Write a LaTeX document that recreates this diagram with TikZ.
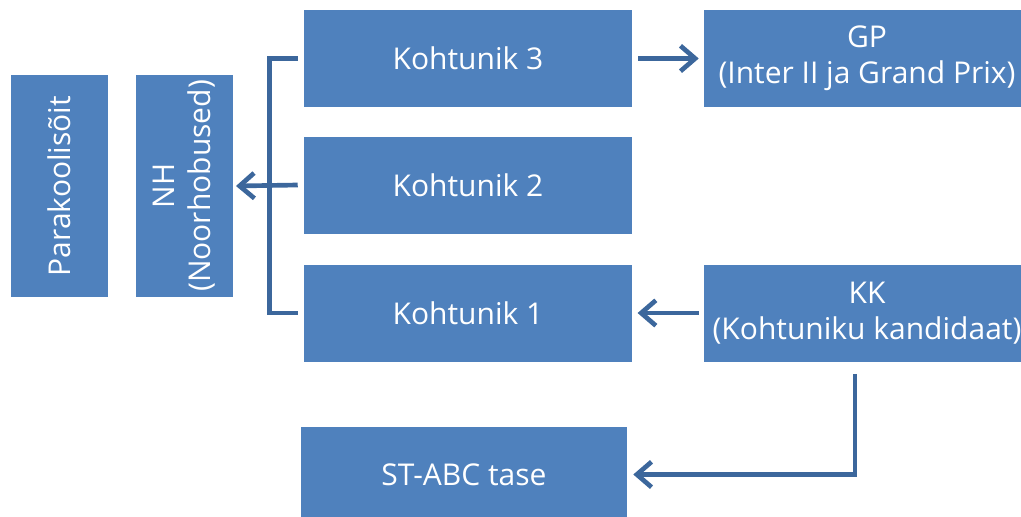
\documentclass[tikz,border=0pt]{standalone}
\usepackage{fontspec}
\setmainfont{Open Sans}
\usetikzlibrary{arrows.meta}
\definecolor{boxblue}{HTML}{4F81BD}
\definecolor{linkblue}{HTML}{3C679C}
\begin{document}
\begin{tikzpicture}[x=0.75pt,y=-0.75pt,
  box/.style={rectangle,fill=boxblue,draw=none,text=white,font=\fontsize{22.5}{27}\selectfont,align=center,inner sep=0pt},
  vbox/.style={box,rotate=90,minimum width=166.5pt,minimum height=72.75pt},
  wbox/.style={box,minimum width=246pt,minimum height=72.75pt},
  link/.style={draw=linkblue,line width=3.5pt},
  arr/.style={link,-{Straight Barb[length=11pt,width=19pt,line width=3.5pt]}}]
\useasboundingbox (0,0) rectangle (1021,517);
\clip (0,0) rectangle (1021,517);
\node[vbox] (pk) at (59.5,186) {Parakoolisõit};
\node[vbox] (nh) at (184.5,186) {NH\\(Noorhobused)};
\node[wbox] (k3) at (468,58.5) {Kohtunik 3};
\node[wbox] (k2) at (468,185) {Kohtunik 2};
\node[wbox] (k1) at (468,313) {Kohtunik 1};
\node[box,minimum width=244.5pt,minimum height=72.75pt] (gp) at (867,58.5) {GP\\(Inter II ja Grand Prix)};
\node[box,minimum width=244.5pt,minimum height=72.75pt] (kk) at (867,313) {KK\\(Kohtuniku kandidaat)};
\node[box,minimum width=244.5pt,minimum height=71.25pt] (st) at (464,474.5) {ST-ABC tase};
\draw[link] ([xshift=-4.5pt]k3.west) -- ++(-21pt,0) |- ([xshift=-4.5pt]k1.west);
\draw[arr] ([xshift=-4.5pt]k2.west) -- (nh.south -| {236,0});
\draw[arr] ([xshift=4.5pt]k3.east) -- ([xshift=-3.75pt]gp.west);
\draw[arr] ([xshift=-3.75pt]kk.west) -- ([xshift=4pt]k1.east);
\draw[arr] ([xshift=-9pt,yshift=-9pt]kk.south) |- ([xshift=4.5pt]st.east);
\end{tikzpicture}
\end{document}
